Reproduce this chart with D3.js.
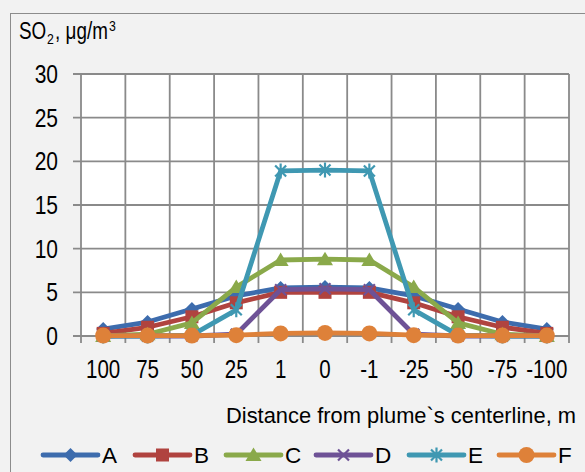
<!DOCTYPE html>
<html>
<head>
<meta charset="utf-8">
<script src="https://cdn.jsdelivr.net/npm/d3@7"></script>
<style>
  html, body { margin: 0; padding: 0; background: #f2f2f2; }
  svg { display: block; }
  text { font-family: "Liberation Sans", Arial, sans-serif; fill: #000; }
</style>
</head>
<body>
<svg id="chart" width="585" height="472"></svg>
<script>
// Distance categories along the plume cross-section
const categories = ["100", "75", "50", "25", "1", "0", "-1", "-25", "-50", "-75", "-100"];

// SO2 concentration per stability class, µg/m³
const seriesA = [0.8, 1.6, 3.1, 4.6, 5.5, 5.6, 5.5, 4.6, 3.1, 1.6, 0.8];
const seriesB = [0.3, 1.0, 2.2, 3.8, 5.0, 5.0, 5.0, 3.8, 2.2, 1.0, 0.3];
const seriesC = [0.0, 0.2, 1.5, 5.6, 8.7, 8.8, 8.7, 5.6, 1.5, 0.2, 0.0];
const seriesD = [0.0, 0.0, 0.0, 0.2, 5.3, 5.4, 5.3, 0.2, 0.0, 0.0, 0.0];
const seriesE = [0.0, 0.0, 0.1, 3.0, 18.9, 19.0, 18.9, 3.0, 0.1, 0.0, 0.0];
const seriesF = [0.05, 0.05, 0.05, 0.1, 0.3, 0.35, 0.3, 0.1, 0.05, 0.05, 0.05];

const seriesNames = ["A", "B", "C", "D", "E", "F"];
const yTicks = [0, 5, 10, 15, 20, 25, 30];

const series = [
  { name: "A", values: seriesA, color: "#3d6cad", marker: "diamond" },
  { name: "B", values: seriesB, color: "#b0433f", marker: "square" },
  { name: "C", values: seriesC, color: "#8aa94a", marker: "triangle" },
  { name: "D", values: seriesD, color: "#6e5296", marker: "cross" },
  { name: "E", values: seriesE, color: "#3f98b2", marker: "star" },
  { name: "F", values: seriesF, color: "#de8139", marker: "circle" }
];

const svg = d3.select("#chart");

// condense a text element horizontally to the given ratio of its natural width
function condense(sel, ratio) {
  sel.each(function () {
    const w = this.getComputedTextLength();
    d3.select(this).attr("textLength", w * ratio).attr("lengthAdjust", "spacingAndGlyphs");
  });
}

// chart frame
svg.append("rect")
  .attr("x", 10.5).attr("y", 13.5)
  .attr("width", 600).attr("height", 500)
  .attr("fill", "#f2f2f2").attr("stroke", "#8c8c8c").attr("stroke-width", 1);

const plot = { left: 81, right: 569, top: 74, bottom: 336 };

const x = d3.scaleBand().domain(categories).range([plot.left, plot.right]).padding(0);
const xc = d => x(d) + x.bandwidth() / 2;
const y = d3.scaleLinear().domain([0, 30]).range([plot.bottom, plot.top]);

svg.append("rect")
  .attr("x", plot.left).attr("y", plot.top)
  .attr("width", plot.right - plot.left).attr("height", plot.bottom - plot.top)
  .attr("fill", "#ffffff");

const gridColor = "#8a8a8a";

// horizontal gridlines with short ticks to the left
svg.append("g").selectAll("line").data(yTicks).join("line")
  .attr("x1", plot.left - 8).attr("x2", plot.right)
  .attr("y1", d => y(d)).attr("y2", d => y(d))
  .attr("stroke", gridColor).attr("stroke-width", 1.8);

// vertical gridlines at category boundaries, extending below as tick marks
const bounds = categories.map(c => x(c)).concat([plot.right]);
svg.append("g").selectAll("line").data(bounds).join("line")
  .attr("x1", d => d).attr("x2", d => d)
  .attr("y1", plot.top).attr("y2", plot.bottom + 7)
  .attr("stroke", gridColor).attr("stroke-width", 1.8);

// y tick labels
svg.append("g").selectAll("text").data(yTicks).join("text")
  .attr("x", 58).attr("y", d => y(d) + 9)
  .attr("text-anchor", "end")
  .attr("font-size", 25)
  .text(d => d)
  .call(condense, 0.84);

// x tick labels
svg.append("g").selectAll("text").data(categories).join("text")
  .attr("x", d => xc(d)).attr("y", 378)
  .attr("text-anchor", "middle")
  .attr("font-size", 25)
  .text(d => d)
  .call(condense, 0.82);

// y axis title: SO2, µg/m3, pieces laid out in sequence inside a condensed group
const titleScale = 0.82;
const yTitle = svg.append("g").attr("transform", `translate(19,39) scale(${titleScale},1)`);
const pieces = [
  { t: "SO", size: 23, dy: 0, gap: 1 },
  { t: "2", size: 15, dy: 5, gap: 1.5 },
  { t: ", μg/m", size: 23, dy: 0, gap: 1.5 },
  { t: "3", size: 15, dy: -8, gap: 0 }
];
let cursor = 0;
pieces.forEach(p => {
  const el = yTitle.append("text").attr("x", cursor).attr("y", p.dy)
    .attr("font-size", p.size).text(p.t);
  cursor += el.node().getComputedTextLength() + p.gap;
});

svg.append("text")
  .attr("x", 226).attr("y", 423)
  .attr("font-size", 22.5)
  .attr("textLength", 350).attr("lengthAdjust", "spacingAndGlyphs")
  .text("Distance from plume`s centerline, m");

// marker shapes
function drawMarker(g, type, cx, cy, color) {
  const s = 5.5;
  if (type === "diamond") {
    g.append("path").attr("d", `M${cx},${cy - 7}L${cx + 7},${cy}L${cx},${cy + 7}L${cx - 7},${cy}Z`).attr("fill", color);
  } else if (type === "square") {
    g.append("rect").attr("x", cx - 6.5).attr("y", cy - 6.5).attr("width", 13).attr("height", 13).attr("fill", color);
  } else if (type === "triangle") {
    g.append("path").attr("d", `M${cx},${cy - 7.5}L${cx + 8},${cy + 6}L${cx - 8},${cy + 6}Z`).attr("fill", color);
  } else if (type === "cross") {
    g.append("path").attr("d", `M${cx - s},${cy - s}L${cx + s},${cy + s}M${cx - s},${cy + s}L${cx + s},${cy - s}`)
      .attr("stroke", color).attr("stroke-width", 2.2).attr("fill", "none");
  } else if (type === "star") {
    g.append("path").attr("d", `M${cx - s},${cy - s}L${cx + s},${cy + s}M${cx - s},${cy + s}L${cx + s},${cy - s}M${cx},${cy - 7.5}L${cx},${cy + 7.5}`)
      .attr("stroke", color).attr("stroke-width", 2.2).attr("fill", "none");
  } else if (type === "circle") {
    g.append("circle").attr("cx", cx).attr("cy", cy).attr("r", 8).attr("fill", color);
  }
}

const line = d3.line().x((d, i) => xc(categories[i])).y(d => y(d));

series.forEach(s => {
  const g = svg.append("g");
  g.append("path").datum(s.values)
    .attr("d", line)
    .attr("fill", "none")
    .attr("stroke", s.color)
    .attr("stroke-width", 4.8)
    .attr("stroke-linejoin", "round");
  s.values.forEach((v, i) => drawMarker(g, s.marker, xc(categories[i]), y(v), s.color));
});

// legend
const legendX = [43, 135, 226, 316, 409, 499];
series.forEach((s, i) => {
  const g = svg.append("g");
  const lx = legendX[i];
  const ly = 455;
  g.append("line").attr("x1", lx).attr("x2", lx + 55).attr("y1", ly).attr("y2", ly)
    .attr("stroke", s.color).attr("stroke-width", 4.8).attr("stroke-linecap", "round");
  drawMarker(g, s.marker, lx + 27.5, ly, s.color);
  g.append("text").attr("x", lx + 59).attr("y", 463)
    .attr("font-size", 22.5).text(seriesNames[i]);
});
</script>
</body>
</html>
